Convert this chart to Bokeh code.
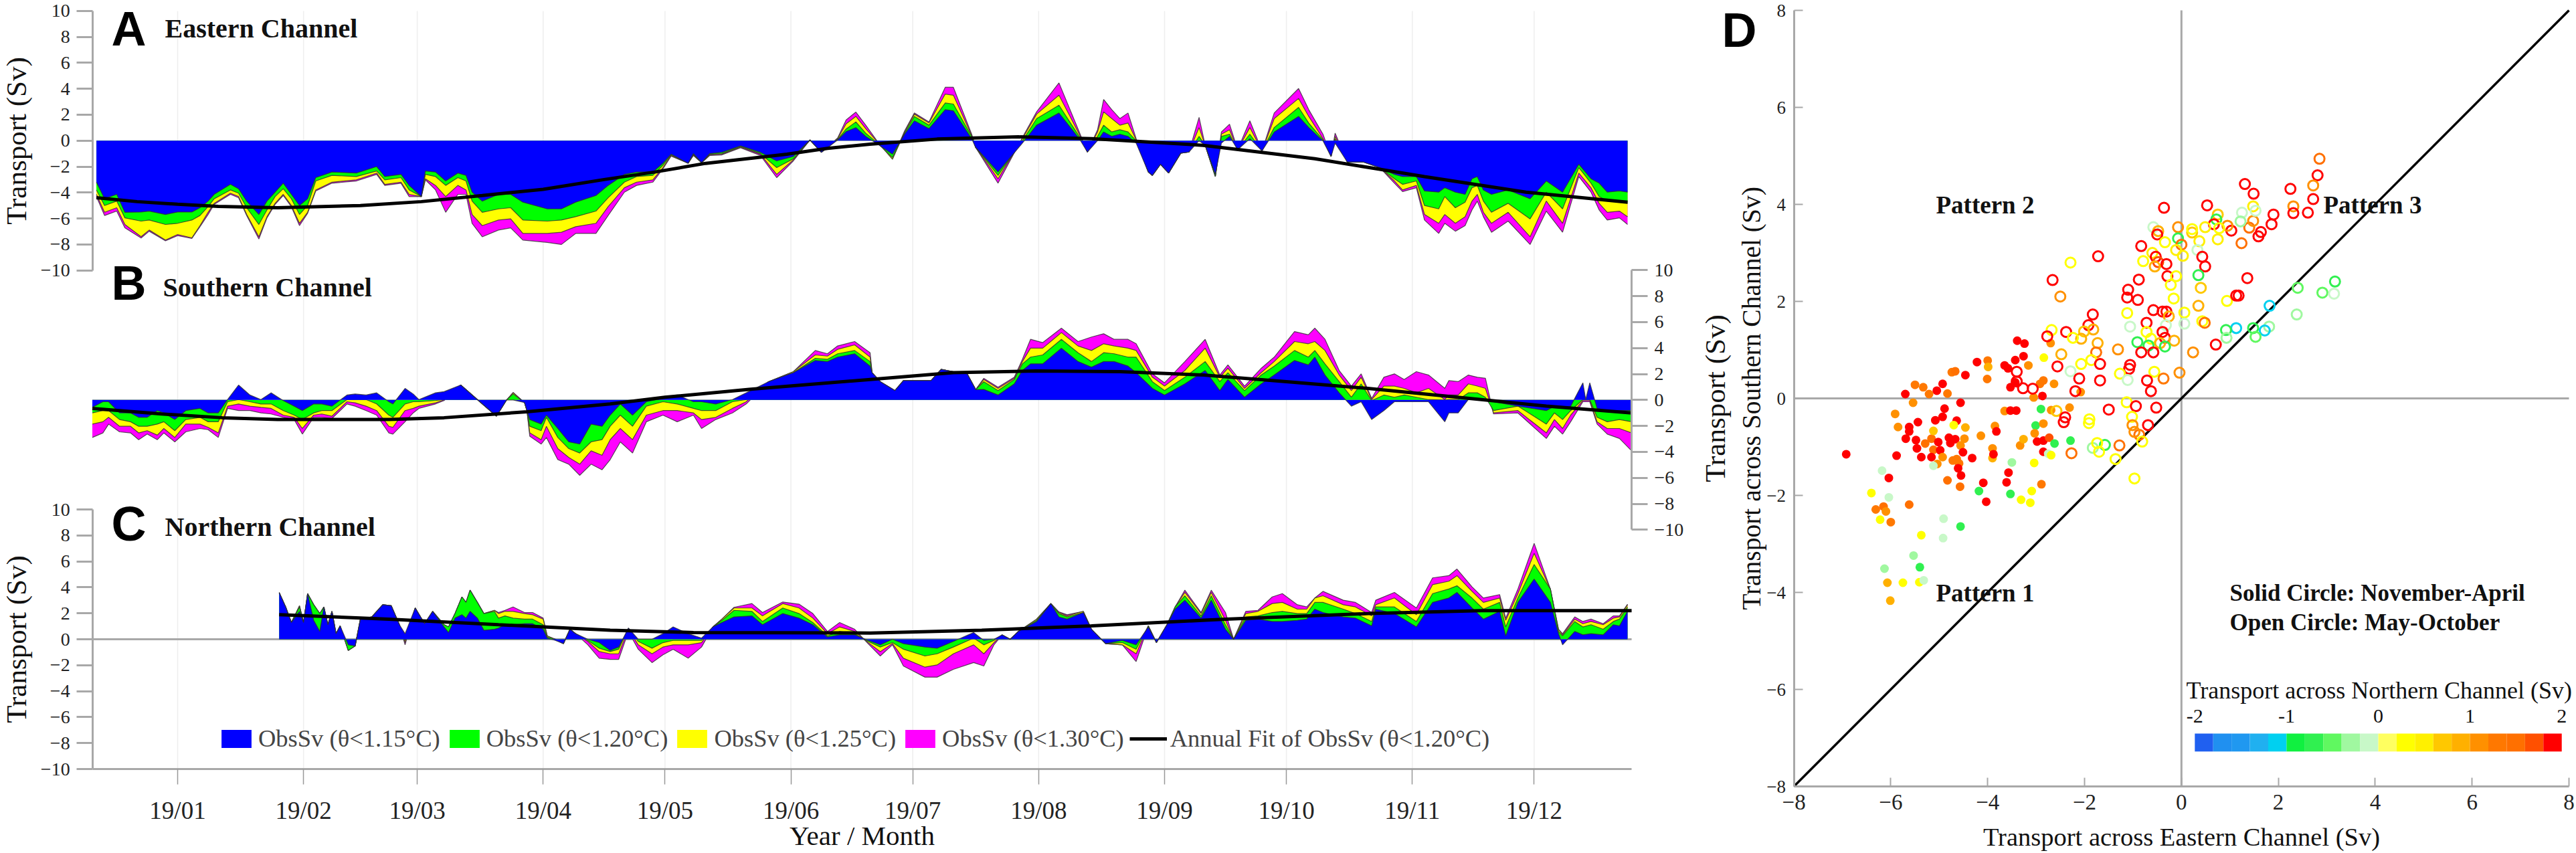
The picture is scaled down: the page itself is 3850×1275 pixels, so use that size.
from math import pi

from bokeh.embed import file_html
from bokeh.models import (ColumnDataSource, FixedTicker, Label, Legend, LegendItem,
                          LinearAxis, LinearColorMapper, Range1d)
from bokeh.plotting import figure
from bokeh.resources import INLINE

# months, x is days from the 19/01 tick
month_days = [0, 31, 59, 90, 120, 151, 181, 212, 243, 273, 304, 334]
month_labels = ["19/01", "19/02", "19/03", "19/04", "19/05", "19/06",
                "19/07", "19/08", "19/09", "19/10", "19/11", "19/12"]
y_ticks = [-10, -8, -6, -4, -2, 0, 2, 4, 6, 8, 10]
d_ticks = [-8, -6, -4, -2, 0, 2, 4, 6, 8]

# Eastern channel
a_days = [-20, -18, -15, -13, -9, -7, -3, 0, 3.5, 5.5, 7.5, 9, 13, 15, 17, 20, 22, 24, 26, 28,
          30, 32, 34, 38, 44, 49, 51, 55, 57, 60, 61, 63.5, 66, 69, 71, 72.5, 75, 79, 82, 85,
          91, 94.5, 98, 103, 106, 110, 113, 117, 119.5, 121.5, 125.7, 127, 129, 131, 134,
          138.6, 143.5, 147.5, 151.6, 155.7, 158.5, 162.5, 164.6, 167, 169.4,
          172, 176, 179, 181.4, 185, 189, 191, 195.5, 196.5, 202, 208, 211.5, 217, 222, 224,
          226.5, 228, 230, 232, 234, 236, 239, 240, 242, 244, 247, 249, 251.5, 253, 255.5,
          257, 259, 261, 264, 267, 270, 276, 278.5, 282, 284, 285, 288, 292, 296, 299.6,
          301.6, 305, 307, 310.5, 312, 314.6, 317, 318.7, 320, 321.5, 323.5, 327.6, 333, 337, 341,
          345, 348, 350, 352, 355, 357]
a_115 = [-3.2, -4.48, -4.14, -5.52, -5.5, -5.43, -5.69, -5.5, -5.5, -5.17, -4.66, -4.14, -3.37, -3.71, -4.66,
         -5.69, -4.66, -3.97, -3.28, -4.14, -5, -4.48, -2.85, -2.42, -2.5, -2, -2.77, -2.6, -3.45, -4.31,
         -2.34, -2.42, -3.11, -2.5, -2.68, -3.97, -4.66, -4.14, -4.14, -4.74, -5.26, -5.26, -4.74, -4.23, -3.45,
         -2.6, -2.42, -2.42, -1.74, -1.05, -1.74, -1, -1.7, -1, -0.9, -0.4, -0.9, -1.56, -1.22, 0.05,
         -0.9, 0.05, 0.7, 1, 0.33,
         -0.19, -1.05, 0.5, 1.53, 0.93, 2.39, 2.3, 0.15, -0.53, -2.42, -0.19, 1.19, 2.13, 0.15, -0.88,
         0, 0.67, 0.33, 0.5, 0.33, -0.19, -2.42, -2.68, -1.82, -2.5, -0.96, -0.88, 0, -0.36, -2.6,
         -0.19, 0.33, -0.7, 0.15, -0.79, 0.67, 1.87, 1.01, -0.02, -1.22, -0.19, -1.65, -1.65, -2.08, -2.6,
         -2.77, -2.77, -3.88, -3.97, -3.63, -3.97, -4.14, -2.94, -2.77, -3.8, -4.14, -3.8, -4.48, -3.11, -3.97,
         -1.82, -2.94, -3.28, -3.97, -3.88, -3.97]
a_120 = [-3.8, -5, -4.66, -5.95, -6.2, -6.12, -6.46, -6.37, -6.12, -5.77, -5.09, -4.48, -3.8, -4.05, -5.17,
         -6.46, -5.34, -4.31, -3.71, -4.48, -5.69, -5, -3.11, -2.68, -2.77, -2.34, -3.02, -2.85, -3.8, -4.31,
         -2.6, -2.77, -3.45, -2.85, -3.11, -4.66, -5.52, -5.26, -5.17, -6.12, -6.2, -6.12, -5.86, -5.43, -4.4,
         -3.2, -2.77, -2.68, -1.9, -1.1, -1.74, -1.05, -1.7, -1.05, -1, -0.45, -1, -2.08, -1.4, 0.05,
         -0.9, 0.1, 0.9, 1.44, 0.58,
         -0.1, -1.3, 0.58, 1.87, 1.19, 2.9, 2.82, 0.33, -0.53, -2.68, -0.02, 1.7, 2.73, 0.33, -0.88,
         0.33, 1.19, 0.67, 0.84, 0.67, 0, -2.42, -2.68, -1.82, -2.5, -0.96, -0.88, 0.33, -0.36, -2.77,
         0.33, 0.5, -0.7, 0.5, -0.79, 1.01, 2.56, 1.36, 0.07, -1.22, 0.15, -1.65, -1.65, -2.08, -2.94,
         -3.37, -3.11, -5, -5.26, -4.31, -5.17, -4.74, -3.63, -3.45, -4.66, -5.52, -4.83, -6.03, -3.97, -5.26,
         -2.08, -3.28, -4.31, -4.66, -4.66, -4.83]
a_125 = [-4.14, -5.52, -5.17, -6.46, -7.4, -6.89, -7.66, -7.23, -7.49, -6.55, -5.52, -4.83, -4.05, -4.31, -5.69,
         -7.41, -5.86, -4.83, -4.14, -5, -6.37, -5.52, -3.8, -3.2, -3.02, -2.5, -3.37, -3.2, -4.14, -4.31,
         -2.94, -3.45, -4.31, -3.45, -3.8, -5.69, -6.55, -6.12, -6.03, -7.15, -7.15, -7.06, -6.63, -6.37, -5.09,
         -3.63, -3.2, -3.02, -2.08, -1.15, -1.74, -1.1, -1.7, -1.1, -1.05, -0.5, -1.05, -2.6, -1.48, 0.05,
         -0.9, 0.15, 1.3, 1.87, 0.93,
         0, -1.43, 0.67, 2.04, 1.36, 3.59, 3.5, 0.41, -0.53, -2.94, 0.15, 2.04, 3.5, 0.5, -0.88,
         0.67, 2.22, 1.7, 1.19, 1.36, 0.07, -2.42, -2.68, -1.82, -2.5, -0.96, -0.88, 1.01, -0.36, -2.77,
         0.5, 0.84, -0.7, 1.01, -0.79, 1.7, 3.25, 1.87, 0.15, -1.22, 0.33, -1.65, -1.65, -2.08, -3.11,
         -3.8, -3.45, -5.69, -6.37, -5.69, -6.37, -5.86, -4.66, -4.14, -5.52, -6.37, -5.52, -7.41, -4.66, -6.37,
         -2.5, -3.63, -4.83, -5.52, -5.43, -5.86]
a_130 = [-4.31, -5.77, -5.43, -6.72, -7.5, -6.98, -7.72, -7.32, -7.54, -6.63, -5.69, -4.91, -4.14, -4.4, -5.77,
         -7.58, -5.95, -4.91, -4.23, -5.09, -6.55, -5.6, -3.88, -3.28, -3.11, -2.6, -3.45, -3.28, -4.31, -4.31,
         -3.02, -3.8, -5.52, -4.14, -4.14, -6.37, -7.41, -6.89, -6.72, -7.66, -7.84, -8, -7.15, -7.15, -5.77,
         -3.97, -3.45, -3.2, -2.16, -1.2, -1.74, -1.15, -1.7, -1.15, -1.1, -0.55, -1.15, -2.85, -1.56, 0.05,
         -0.9, 0.2, 1.6, 2.2, 1.2,
         0.07, -1.43, 0.76, 2.13, 1.44, 4.11, 4.11, 0.5, -0.53, -3.28, 0.24, 2.22, 4.45, 0.67, -0.88,
         0.84, 3.17, 2.39, 1.7, 2.13, 0.15, -2.42, -2.68, -1.82, -2.5, -0.96, -0.88, 1.79, -0.36, -2.77,
         0.67, 1.27, -0.7, 1.53, -0.79, 2.13, 4.02, 2.39, 0.5, -1.22, 0.58, -1.65, -1.65, -2.08, -3.28,
         -3.93, -3.63, -6.12, -7.15, -6.37, -6.98, -6.55, -5.34, -4.66, -5.86, -7.06, -6.2, -8, -5.43, -7.06,
         -2.77, -3.97, -5.34, -6.12, -5.95, -6.46]
a_fit_days = [-20, -10, 0, 10, 24.6, 45, 60, 75, 90, 105, 117.5, 130, 150, 160, 170.5, 187, 207, 225, 252.5, 280, 307, 332, 357]
a_fit = [-4.4, -4.7, -4.9, -5.07, -5.17, -5, -4.7, -4.23, -3.75, -3, -2.42, -1.75, -1.05, -0.6, -0.27, 0.12, 0.29, 0.15, -0.36, -1.39, -2.77, -3.97, -4.74]

# Southern channel
b_days = [-21, -18.4, -17, -14.3, -11.6, -9.6, -7.5, -5, -3.4, -0.7, 2, 5.5, 7.5, 10, 12.3,
          15, 17.8, 20.5, 23, 26, 28.7, 30.7, 33.5, 35.5, 38, 41.7, 43.7, 46.4, 49, 52,
          53, 56, 58, 59.4, 63.5, 65.6, 69.7, 73.8, 78.5, 81, 82.6, 85.4, 86, 86.7, 89.5,
          90.8, 93.6, 96.3, 99, 101.8, 104.5, 106.5, 109, 112, 115.4, 119.5, 123, 127, 129, 132.5,
          136.6, 140, 145.5, 151.6, 157, 160, 162.5, 166.7, 170.5,
          171, 173, 176.6, 178.7, 185.5, 188, 191, 194.4, 196.5, 198.5, 202, 206, 208, 210, 213,
          217.6, 221.7, 225, 228, 230.6, 234, 236, 240, 243, 248, 253, 256.6, 258.6, 262.7, 266.8,
          270, 275, 278.4, 280, 282.5, 286, 289, 291.4, 294, 297, 299.6, 302, 305, 308, 312,
          313, 315.3, 317.8, 320, 322, 324, 330, 337, 339, 341, 343, 346, 346.7, 347.7, 349.5,
          352, 355, 358]
b_115 = [-0.57, -0.14, -0.14, -1, -1, -1.34, -1.34, -0.82, -1, -1.51, -0.82, -0.65, -1, -1, 0.03,
         1.15, 0.38, 0.03, 0.55, -0.05, -0.48, -0.82, -0.31, -0.31, -0.48, 0.38, 0.46, 0.38, 0.55, -0.14,
         -0.31, 0.89, 0.46, 0.03, 0.55, 0.64, 1.15, 0.03, -1.25, 0, 0, -0.2, -0.82, -1.51, -1.86,
         -1.17, -2.2, -3.23, -3.4, -1.86, -2.03, -1.17, -0.31, -1.17, -0.14, 0.12, 0.38, -0.14, -0.14, -0.31,
         0.03, 0.55, 1.41, 2.1, 3.04, 2.96, 3.3, 3.56, 2.61,
         2.1, 1.41, 0.72, 1.49, 1.49, 2.35, 2.18, 2.01, 0.8, 0.81, 0.38, 1.24, 2.27, 2.78, 2.78,
         3.99, 2.96, 2.53, 2.96, 2.96, 2.61, 2.1, 0.89, 0.38, 1.24, 2.27, 0.72, 1.58, 0.21, 1.24,
         1.92, 3.04, 2.7, 3.3, 1.92, 0.55, -0.48, -0.14, -1.51, -0.82, -0.14, -0.14, -0.14, -0.14, -1.68,
         -1, -1, 0.03, 0.03, 0.03, -0.14, -0.48, -0.82, -0.48, -0.65, -0.48, 1.32, 0.03, 1.32, -0.65,
         -0.82, -0.82, -0.82]
b_120 = [-1, -0.82, -0.82, -1.51, -1.68, -2.03, -2.03, -1.86, -1.68, -2.37, -1.51, -1.34, -1.68, -1.68, -0.14,
         0.03, -0.14, -0.31, -0.31, -0.82, -1.17, -1.51, -1, -0.82, -0.82, 0.03, 0.03, 0.03, -0.31, -1.17,
         -1.34, -0.31, -0.14, -0.14, -0.05, 0.03, 1.15, 0.03, -1.25, 0, 0.46, -0.2, -0.82, -2.03, -2.37,
         -1.34, -2.89, -3.75, -4.09, -3.23, -3.06, -2.03, -1.17, -2.03, -0.48, -0.14, -0.31, -0.65, -0.82, -0.82,
         -0.14, 0.03, 1.41, 2.1, 3.21, 3.13, 3.56, 3.81, 2.96,
         2.1, 1.41, 0.72, 1.49, 1.49, 2.35, 2.18, 2.01, 0.8, 1.41, 0.72, 1.58, 2.78, 3.3, 3.47,
         4.67, 3.64, 2.96, 3.64, 3.56, 3.3, 3.3, 1.41, 0.72, 1.75, 2.96, 1.41, 2.1, 0.72, 1.92,
         2.61, 3.81, 3.3, 3.81, 2.78, 1.41, 0.21, 1.24, -0.05, 0.38, 0.21, 0.38, 0.21, 0.03, 0,
         0.03, 0.03, 0.55, 0.55, 0.21, -0.82, -0.48, -1.86, -1, -1.51, -0.82, 0.03, 0.03, 0.03, -1.34,
         -1.68, -1.51, -1.68]
b_125 = [-1.86, -1.68, -1.34, -2.03, -2.03, -2.54, -2.37, -2.71, -2.2, -2.89, -1.86, -1.86, -2.11, -2.54, -0.48,
         -0.31, -0.48, -0.57, -0.65, -1.17, -1.34, -2.2, -1.17, -1.08, -1.25, -0.14, -0.22, -0.48, -0.82, -2.03,
         -2.11, -0.82, -0.65, -0.48, -0.22, 0, 1.15, 0.03, -1.25, 0, 0.55, -0.2, -0.82, -2.54, -3.06,
         -2.03, -3.75, -4.43, -4.95, -3.92, -4.26, -3.06, -2.2, -3.06, -1.17, -0.82, -0.82, -1, -1.51, -1.34,
         -0.65, -0.14, 1.41, 2.18, 3.47, 3.38, 3.9, 4.24, 3.3,
         2.1, 1.41, 0.72, 1.49, 1.49, 2.35, 2.18, 2.01, 0.8, 1.58, 0.89, 1.67, 2.96, 3.99, 3.99,
         5.19, 4.16, 3.81, 4.33, 4.16, 3.99, 3.81, 1.75, 1.07, 2.27, 3.99, 1.75, 2.44, 0.89, 2.1,
         2.96, 4.5, 4.33, 4.5, 3.81, 1.92, 0.72, 1.75, 0.03, 1.07, 1.07, 0.89, 0.55, 0.89, 0.03,
         0.38, 0.38, 1.24, 1.07, 0.89, -1, -0.82, -2.54, -1.51, -2.2, -1.17, -0.05, -0.05, -0.05, -1.68,
         -2.2, -2.2, -2.54]
b_130 = [-2.89, -2.54, -1.86, -2.46, -2.54, -3.06, -2.63, -3.06, -2.54, -3.23, -2.46, -2.2, -2.29, -2.89, -0.65,
         -0.82, -0.82, -1, -1.08, -1.34, -1.51, -2.63, -1.34, -1.34, -1.43, -0.31, -0.48, -0.82, -1.17, -2.54,
         -2.63, -1.68, -1, -0.65, -0.31, -0.05, 1.15, 0.03, -1.25, 0, 0.58, -0.2, -0.82, -2.8, -3.4,
         -2.89, -4.6, -4.95, -5.81, -4.95, -5.38, -4.6, -3.23, -4.09, -1.68, -1.17, -1.68, -1.17, -2.2, -1.51,
         -1, -0.31, 1.41, 2.18, 3.81, 3.56, 4.16, 4.5, 3.64,
         2.1, 1.41, 0.72, 1.49, 1.49, 2.35, 2.18, 2.01, 0.8, 1.67, 0.98, 1.75, 3.13, 4.67, 4.42,
         5.53, 4.5, 4.85, 5.1, 4.67, 4.67, 4.33, 2.01, 1.32, 2.96, 4.67, 1.92, 2.7, 1.07, 2.44,
         3.3, 5.27, 5.02, 5.53, 4.67, 2.27, 1.07, 2.01, 0.12, 1.75, 2.01, 1.58, 2.18, 1.92, 0.89,
         1.49, 1.41, 1.92, 1.75, 1.67, -1.08, -1, -2.97, -2.03, -2.63, -1.68, -0.14, -0.14, -0.14, -1.86,
         -2.63, -2.97, -3.92]
b_fit_days = [-21, -4, 11, 24.6, 52, 65.6, 86, 106.5, 120, 140.7, 170.5, 191, 211.5, 232, 252.5, 273, 293, 321, 337, 358]
b_fit = [-0.65, -1.08, -1.37, -1.51, -1.51, -1.37, -0.91, -0.31, 0.21, 0.81, 1.58, 2.1, 2.23, 2.18, 1.92, 1.41, 0.89, 0.03, -0.48, -1]

# Northern channel
c_days = [25, 26.6, 28, 30, 31, 32, 33.5, 35, 36, 37, 38, 39, 40, 42, 43.7,
          45, 47.8, 50.5, 52.6, 54.6, 56, 58.5, 60.8, 62.8, 65.6, 66.7, 68.3, 70, 71, 72,
          73.8, 75.4, 78, 79, 80.6, 82.6, 85.4, 87.4, 90, 91, 93, 95, 96.6, 98, 101,
          103.8, 106.5, 108.6, 111, 113.4, 116.8, 119.5, 122, 125.7, 129, 131.8, 134, 137, 141.4, 144,
          149, 153, 156.4, 160, 163, 166.7, 170,
          173, 176, 178.7, 184, 187, 191, 196, 198.5, 201, 203, 205, 207, 211.5, 215, 217,
          219, 223, 225, 228.5, 232.6, 236, 239, 241, 243.6, 245.6, 248, 252, 254.5, 258, 260,
          263, 266, 269.5, 272, 275.7, 278, 280, 282, 287, 290, 294, 295, 299.6, 305, 309,
          313, 315, 318.7, 321.5, 325.5, 327, 330, 334, 338, 340, 341, 344, 346, 348, 351,
          353.5, 355, 357]
c_115 = [3.6, 2.49, 1.29, 2.15, 1.29, 3.52, 1.46, 0.6, 2.49, 1.12, 2.15, 0.43, 1.03, -0.43, -0.52,
         1.55, 1.72, 2.66, 2.58, 1.12, 0.43, 2.41, 1.2, 2.15, 0.95, 0.52, 1.63, 1.89, 1.63, 2.15,
         1.63, 0.69, 0.77, 0.86, 1.12, 1.12, 1.2, 1.2, 0.77, 0.09, -0.09, -0.34, 0.77, 0.43, 0,
         -0.26, -0.86, -0.6, 0.86, 0, 0, 0.43, 0.95, 0.43, 0.09, 0.95, 1.29, 1.72, 1.8, 1.12,
         1.98, 1.63, 1.12, 0.17, 0.34, 0.34, -0.09,
         -0.43, 0, -0.34, -0.6, -0.69, -0.17, 0.52, -0.09, 0, 0.34, 0, 0.6, 1.37, 2.75, 1.72,
         1.55, 2.06, 0.77, -0.34, -0.09, -0.43, 0.95, -0.26, 1.12, 2.32, 3.01, 1.63, 3.01, 0.77, 0,
         1.46, 1.55, 1.37, 1.37, 1.46, 1.55, 2.32, 2.06, 1.72, 1.63, 1.03, 2.32, 1.98, 0.95, 2.84,
         3.18, 3.61, 2.41, 1.55, 2.15, 0.26, 2.84, 4.64, 2.84, 0.43, -0.43, 0.6, 0.34, 0.43, 0.34,
         1.12, 1.03, 2.15]
c_120 = [3.6, 2.49, 1.29, 2.49, 1.29, 3.52, 2.66, 1.98, 2.49, 1.12, 2.15, 0.43, 1.03, -0.86, -0.52,
         1.55, 1.72, 2.66, 2.58, 1.12, -0.09, 2.41, 1.2, 2.15, 1.12, 0.95, 1.98, 3.26, 2.84, 3.78,
         2.84, 1.98, 2.15, 1.63, 1.8, 1.63, 1.55, 1.55, 1.12, 0.17, 0, -0.34, 0.77, 0.43, -0.09,
         -0.69, -0.95, -0.77, 0.86, -0.17, -0.69, -0.26, -0.09, -0.09, -0.09, 0.95, 1.46, 2.23, 2.15, 1.37,
         2.41, 1.98, 1.29, 0.26, 0.6, 0.43, -0.17,
         -0.6, -0.26, -0.77, -1.29, -1.12, -0.6, 0.09, -0.43, -0.09, 0.34, 0, 0.6, 1.46, 2.75, 1.98,
         1.72, 2.06, 0.77, -0.34, -0.26, -0.77, 1.03, -0.26, 1.12, 2.49, 3.35, 1.8, 3.35, 1.12, 0,
         1.72, 1.8, 2.06, 2.15, 1.98, 1.98, 2.84, 2.84, 2.32, 1.98, 1.37, 2.49, 2.49, 1.37, 3.52,
         3.87, 4.12, 3.18, 2.32, 2.84, 0.95, 3.18, 5.76, 3.87, 0.6, 0.26, 1.37, 0.95, 1.12, 0.77,
         1.37, 1.55, 2.49]
c_125 = [3.6, 2.49, 1.29, 2.58, 1.29, 3.52, 2.66, 1.98, 2.49, 1.12, 2.15, 0.43, 1.03, -0.86, -0.52,
         1.55, 1.72, 2.66, 2.58, 1.12, -0.26, 2.41, 1.2, 2.15, 1.12, 0.95, 1.98, 3.26, 2.84, 3.78,
         2.84, 1.98, 2.23, 1.98, 2.15, 2.15, 1.98, 1.89, 1.55, 0.26, 0, -0.34, 0.77, 0.43, -0.17,
         -0.95, -1.12, -1.12, 0.77, -0.43, -1.12, -0.6, -0.43, -0.43, -0.26, 0.95, 1.55, 2.41, 2.41, 1.8,
         2.75, 2.41, 1.63, 0.43, 0.95, 0.6, -0.26,
         -0.95, -0.34, -1.46, -2.15, -1.98, -1.12, -0.43, -1.12, -0.26, 0.34, 0, 0.6, 1.55, 2.75, 2.06,
         1.8, 2.15, 0.77, -0.34, -0.43, -1.12, 1.03, -0.26, 1.12, 2.49, 3.61, 1.98, 3.61, 1.46, 0,
         1.98, 2.15, 2.75, 2.84, 2.32, 2.32, 3.18, 3.35, 2.66, 2.49, 1.8, 2.66, 3.18, 1.89, 4.21,
         4.47, 4.9, 3.69, 2.84, 3.18, 1.46, 3.52, 6.62, 3.87, 0.77, 0.34, 1.55, 1.2, 1.37, 1.12,
         1.63, 1.72, 2.66]
c_130 = [3.6, 2.49, 1.29, 2.58, 1.29, 3.52, 2.66, 1.98, 2.49, 1.12, 2.15, 0.43, 1.03, -0.86, -0.52,
         1.55, 1.72, 2.66, 2.58, 1.12, -0.43, 2.41, 1.2, 2.15, 1.12, 0.95, 1.98, 3.26, 2.84, 3.78,
         2.84, 1.98, 2.23, 2.06, 2.23, 2.49, 2.06, 2.06, 1.63, 0.26, 0, -0.34, 0.77, 0.43, -0.43,
         -1.46, -1.55, -1.55, 0.6, -0.77, -1.8, -1.2, -0.77, -1.46, -0.6, 0.95, 1.55, 2.46, 2.75, 2.06,
         2.87, 2.7, 1.98, 0.6, 1.29, 0.77, -0.34,
         -1.29, -0.43, -2.06, -2.92, -2.92, -2.32, -1.8, -2.06, -0.43, 0.34, 0, 0.6, 1.55, 2.75, 2.11,
         1.89, 2.15, 0.77, -0.34, -0.43, -1.72, 1.03, -0.26, 1.12, 2.49, 3.78, 2.06, 3.78, 2.06, 0,
         2.15, 2.23, 3.26, 3.52, 2.66, 2.49, 3.18, 3.69, 3.01, 2.84, 2.06, 3.01, 3.61, 2.41, 4.73,
         4.9, 5.41, 4.04, 3.18, 3.44, 1.63, 3.87, 7.39, 3.87, 0.77, 0.43, 1.72, 1.37, 1.55, 1.2,
         1.8, 1.8, 2.7]
c_fit_days = [25, 52, 79, 106.5, 127, 170.5, 198, 225, 258, 293.4, 321, 358]
c_fit = [1.89, 1.55, 1.12, 0.69, 0.52, 0.48, 0.69, 1.03, 1.55, 1.98, 2.2, 2.2]

# panel D, May-October (open circles)
open_east = [2.85, 2.81, 2.72, 2.72, 2.25, 2.31, 2.31, 2.61, 1.31, 1.49, 1.9, 1.86, 1.64, 1.59, 1.4, 1.48, 1.48, 1.25, 1.22, 1.53,
             1.03, 0.95, 1.24, 0.75, 0.72, 0.67, 0.49, 0.78, 0.75, 0.53, -0.36, -0.07, 0.22, 0.22, 0.37, 0.33, -0.07, -0.58, -0.48, -0.5,
             -0.34, -0.83, 0, -0.11, 0.03, -0.6, -0.79, -0.53, -0.48, -0.31, -0.55, 0.43, 0.49, -1.72, -2.29, -2.66, -2.5, -0.88, -0.29, -0.11,
             0.35, -0.22, 0.4, -1.1, -1.12, -0.9, -0.16, 0.35, 0.94, 1.13, 1.18, 1.36, 2.4, 2.91, 3.17, 3.15, 1.82, 2.38, 1.81, 1.72,
             1.13, 0.92, 0.93, 1.48, 1.53, 0.71, 0.24, -0.04, -0.58, -0.39, -0.31, -0.26, -1.12, 0.06, 0.43, 0.48, 0.06, -0.32, -1.06, -0.72,
             -1.83, -1.92, -1.82, -2.01, -2.07, -2.38, -2.68, -2.77, -2.24, -1.73, -1.76, -1.31, -0.39, -0.72, -0.63, -0.34, -0.15, -0.91, -0.68, -0.44,
             -0.34, -0.83, -0.58, -2.48, -2.56, -2.07, -1.86, -1.68, -2.29, -1.06, -1.08, -1.27, -0.56, -1.11, -0.71, -0.37, -1.68, -2.11, -0.63, -2.19,
             -3.4, -3.4, -3.27, -3.07, -1.13, -0.94, -0.52, -1.5, -2.58, -2.4, -2.43, -1.9, -1.91, -1.02, -1.01, -0.69,
             -2.27, -1.28, -1.58, -1.83, -1.74, -1.7, -1.36, -0.97, -0.87, -0.81, -0.97]
open_south = [4.94, 4.6, 4.39, 4.11, 4.32, 3.96, 3.82, 3.83, 4.42, 4.22, 3.79, 3.59, 3.43, 3.34, 3.52, 3.66, 3.96, 3.83, 3.65, 3.87,
              3.46, 3.56, 3.2, 3.79, 3.69, 3.59, 3.53, 3.51, 3.28, 3.98, 3.93, 3.53, 3.42, 3.49, 3.24, 3.06, 3.3, 3.53, 3.45, 3.38,
              3.22, 3.14, 3.17, 3.06, 2.94, 3, 2.83, 2.92, 2.81, 2.77, 2.72, 2.92, 2.72, 2.93, 2.8, 2.44, 2.1, 2.45, 2.52, 2.52,
              2.54, 2.34, 2.28, 2.24, 2.08, 2.03, 2.06, 1.91, 2.01, 2.12, 2.12, 2.48, 2.28, 2.18, 2.41, 2.16, 1.91, 1.73, 1.48, 1.4,
              1.45, 1.41, 1.25, 1.45, 1.27, 1.11, 0.95, 0.53, 1.82, 1.79, 1.79, 1.69, 1.76, 1.77, 1.59, 1.56, 1.54, 1.51, 1.48, 1.56,
              1.73, 1.51, 1.42, 1.38, 1.23, 1.37, 1.41, 1.28, 1.25, 1.14, 0.95, 1.01, 1.37, 1.37, 1.23, 1.25, 1.19, 1.16, 1.09, 1.14,
              1.07, 0.95, 0.95, 0.91, 0.66, 0.71, 0.79, 0.71, 0.56, 0.69, 0.61, 0.51, 0.55, 0.38, 0.37, 0.41, 0.37, 0.41, 0.15, 0.15,
              0.55, 0.35, 0.21, 0.2, -0.08, -0.16, -0.19, -0.23, -0.26, -0.39, -0.49, -0.43, -0.51, -0.38, -0.55, -0.55,
              -1.13, -0.97, -0.96, -1.02, -0.92, -1.1, -1.25, -1.65, -0.75, -0.89, -0.69]
open_north = [1.5, 1.9, 1.1, 1.9, 1.9, 1.1, 1.9, 1.9, 1.9, 1.9, 1.9, 1.9, 1.9, 1.9, 1.5, 1.1, 0.5, -0.1, -0.3, -0.1,
              1.9, 1.1, 1.5, 0.7, -0.7, 1.9, 0.5, 0.3, 0.5, 1.9, 1.9, 1.1, 0.7, 0.3, 0.5, -0.1, -0.7, -0.1, 0.9, 1.9,
              0.3, 1.9, 1.5, 0.5, 0.5, 0.5, 0.3, 1.9, 1.7, 1.9, 0.9, 1.9, 1.9, 1.9, 0.3, 1.9, 1.1, 1.9, 1.9, 0.3,
              -0.7, 0.3, 0.7, 1.9, 1.9, 1.9, 0.3, 0.9, 0.3, 1.9, 1.9, 1.9, -0.5, -0.5, -0.6, -0.1, -1.2, -0.3, -0.3, -1.2,
              -1.2, -0.7, -0.3, -0.7, -0.5, 1.9, 1.1, 1.1, 1.9, 1.9, 1.9, 0.9, 0.3, 0.3, 0.3, 1.5, -0.1, -0.1, -0.1, 1.9,
              1.9, 1.9, 0.9, 0.7, 0.9, 1.9, 0.3, 1.9, 0.3, 0.9, 1.5, 1.1, 1.9, 0.3, 0.3, 1.9, 0.9, -0.7, -0.7, 0.9,
              -0.7, 1.9, 1.9, 0.9, 1.9, 0.3, 0.3, 1.9, -0.1, 1.9, 1.9, 0.3, 0.3, -0.1, 1.9, 1.3, 1.9, 1.9, 1.9, 1.9,
              1.9, 1.9, 1.9, 1.9, 0.3, 1.9, 1.9, 1.9, 0.7, 1.9, 1.9, 0.3, 0.3, 0.3, 1.1, 1.9,
              1.5, 1.5, -0.6, -0.3, 0.3, 0.3, 0.3, 0.3, 1.5, 0.3, 1.1]

# panel D, November-April (solid circles)
solid_east = [-5.7, -5.5, -5.33, -5.21, -5.05, -4.93, -4.83, -4.74, -4.67, -4.46, -4.22, -4, -3.99, -4.01, -3.65, -3.58, -3.43, -3.39, -3.24, -3.26,
              -3.16, -2.84, -2.7, -3.53, -3.43, -2.92, -2.85, -2.63, -2.87, -3.05, -5.54, -4.56, -4.89, -5.91, -5.08, -4.93, -4.64, -5.44, -5.85, -5.62,
              -4.7, -4.46, -3.85, -3.65, -3.53, -3.41, -2.9, -2.69, -2.31, -3.01, -2.85, -2.08,
              -5.62, -5.69, -5.48, -5.16, -5.12, -4.8, -4.67, -4.48, -5.29, -5.46, -5.02, -4.77, -5.12, -4.98, -4.56, -6.92, -5.88, -5.37, -5.16, -4.32,
              -4.51, -4.64, -4.72, -4.93, -5.04, -5.12, -4.59, -4.61, -3.9, -3.9, -3.88, -4.14, -3.82, -3.33, -3.26, -3.03, -2.98, -2.85, -2.73, -2.29,
              -2.62, -2.85, -2.75, -2.69, -3.5, -3.04, -3.57, -3.61, -4.09, -4.55, -4.83, -4.57, -6.04, -6.18, -2.89, -3.53, -4.18, -4.03, -3.09, -3.31,
              -3.12, -6.04, -6.4, -5.62, -6.15, -6.31, -6.1, -6.22, -6, -4.91, -4.56, -5.37, -4.92, -5.53, -5.4, -6.13, -6.07, -5.75, -5.41, -5.32, -6.01]
solid_south = [0.09, 0.28, 0.23, 0.09, 0.16, 0.3, 0.1, 0.54, 0.56, 0.48, 0.75, 0.78, 0.65, 0.4, 0.68, 0.62, 0.79, 1.19, 1.13, 0.87,
               0.68, 0.84, 1.14, 0.23, 0.33, 0.3, 0.37, 0.3, 0.05, 0.02, -0.09, -0.09, -0.21, -0.32, -0.45, -0.38, -0.46, -0.49, -0.59, -0.59,
               -0.55, -0.6, -0.57, -0.26, -0.25, -0.25, -0.22, -0.24, -0.19, -0.56, -0.52, 0.13,
               -0.68, -0.83, -0.86, -0.83, -0.67, -0.81, -0.84, -0.83, -0.93, -1.03, -0.9, -0.92, -1.06, -1.07, -0.97, -1.15, -1.18, -1.21, -1.21, -1.23,
               -1.11, -1.25, -1.28, -1.21, -1.35, -1.39, -1.34, -1.44, -1.03, -1.23, -1.15, -0.77, -0.68, -0.97, -0.84, -0.72, -0.89, -0.87, -0.81, -0.87,
               -0.93, -1.1, -1.14, -1.17, -1.32, -1.33, -1.53, -1.73, -1.74, -1.59, -1.69, -1.82, -1.64, -1.49, -1.77, -1.97, -1.91, -2.13, -1.91, -2.09,
               -2.15, -2.04, -1.95, -2.19, -2.23, -2.29, -2.33, -2.5, -2.55, -2.48, -2.64, -2.82, -2.88, -3.24, -3.48, -3.51, -3.8, -3.8, -3.79, -3.75, -4.17]
solid_north = [1.9, 1.3, 1.3, 1.3, 1.9, 1.9, 1.3, 1.3, 1.5, 1.9, 1.9, 1.3, 0.9, 1.3, 1.9, 1.9, 1.9, 1.9, 1.9, 1.9,
               1.1, 0.4, 1.1, 1.9, 1.9, 1.3, 1.3, 1.1, 1.9, 1.1, 1.1, 1.9, 1.9, 1.1, 1.9, 1.9, 1.9, 1.9, 1.1, 1.9,
               0.3, 0.9, 1.1, 1.1, 1.9, 1.9, -0.7, 1.1, 1.1, -0.7, 1.1, 1.1,
               1.9, 1.9, 1.9, 1.5, 0.7, 1.9, 1.9, 1.1, 1.5, 1.9, 1.9, 1.9, 1.5, 1.9, 1.1, 1.9, 1.9, 1.9, 1.9, 1.9,
               1.9, 1.3, 1.3, 1.1, 1.1, -0.1, 1.3, 1.9, 1.1, 0.9, 1.9, 1.1, 1.9, 1.1, 0.9, 1.1, 1.9, 1.9, 1.7, -0.7,
               -0.6, 1.9, -0.1, 0.3, -0.3, 0.3, 1.9, 1.9, 1.9, 1.9, 1.5, 1.5, 1.9, -0.1, 1.3, -0.7, -0.7, 1.9, 0.3, 0.3,
               0.3, -0.1, 0.3, 1.5, 1.5, 1.3, 1.1, 0.3, 1.3, -0.1, -0.7, 0.3, -0.1, -0.3, -0.7, -0.3, 0.9, 0.3, 0.3, -0.1, 0.9]

# colour bar of panel D
north_edges = [-2, -1.8, -1.6, -1.4, -1.2, -1, -0.8, -0.6, -0.4, -0.2, 0,
               0.2, 0.4, 0.6, 0.8, 1, 1.2, 1.4, 1.6, 1.8, 2]
north_palette = ["#2060f0", "#2090f0", "#2098f0", "#20b0f0", "#00d0f0",
                 "#10f040", "#30f050", "#60f860", "#a0f8a0", "#c8f8c8",
                 "#ffff60", "#ffff00", "#fff000", "#ffc800", "#ffb000",
                 "#ff9000", "#ff7800", "#ff7000", "#ff5000", "#ff0000"]
north_ticks = [-2, -1, 0, 1, 2]

W, H = 3850, 1275
GRAY = "#a8a8a8"
SERIF = "Liberation Serif"


def px_range(zero_px, px_per_unit):
    # range over the whole page height, zero_px is where 0 sits in the 3850x1275 picture
    return Range1d((zero_px - H) / px_per_unit, zero_px / px_per_unit)


def hx_range(zero_px, px_per_unit):
    return Range1d(-zero_px / px_per_unit, (W - zero_px) / px_per_unit)


p = figure(width=W, height=H, x_range=hx_range(265, 6.07), y_range=px_range(209.7, 19.4),
           x_axis_type=None, y_axis_type=None, output_backend="svg", toolbar_location=None,
           min_border=0, outline_line_color=None)
p.min_border_left = p.min_border_right = p.min_border_top = p.min_border_bottom = 0
p.extra_y_ranges = {"b": px_range(597.3, 19.4), "c": px_range(955, 19.4), "dy": px_range(595, 72.5)}
p.extra_x_ranges = {"dx": hx_range(3259.8, 72.4), "north": hx_range(3554, 137.1)}

# month lines through all three panels
p.segment(month_days, [-10] * 12, month_days, [48.4] * 12, y_range_name="c", color="#eeeeee", line_width=1.5)
p.line([-20.9, 358], [0, 0], y_range_name="c", color=GRAY, line_width=3)

legend_parts = None
for name, days, s115, s120, s125, s130, fit_days, fit in [
    ("default", a_days, a_115, a_120, a_125, a_130, a_fit_days, a_fit),
    ("b", b_days, b_115, b_120, b_125, b_130, b_fit_days, b_fit),
    ("c", c_days, c_115, c_120, c_125, c_130, c_fit_days, c_fit),
]:
    parts = []
    for vals, col in [(s130, "#ff00ff"), (s125, "#ffff00"), (s120, "#00ff00"), (s115, "#0000ff")]:
        r = p.varea(days, [0] * len(days), vals, y_range_name=name, fill_color=col)
        p.line(days, vals, y_range_name=name, color="#303030", line_width=1.2, line_alpha=0.8)
        parts.append(r)
    fit_line = p.line(fit_days, fit, y_range_name=name, color="black", line_width=5)
    if legend_parts is None:
        legend_parts = parts + [fit_line]

legend = Legend(items=[
    LegendItem(label="ObsSv (θ<1.15°C)", renderers=[legend_parts[3]]),
    LegendItem(label="ObsSv (θ<1.20°C)", renderers=[legend_parts[2]]),
    LegendItem(label="ObsSv (θ<1.25°C)", renderers=[legend_parts[1]]),
    LegendItem(label="ObsSv (θ<1.30°C)", renderers=[legend_parts[0]]),
    LegendItem(label="Annual Fit of ObsSv (θ<1.20°C)", renderers=[legend_parts[4]]),
], location=(325, 150), orientation="horizontal", background_fill_alpha=0, border_line_color=None,
    label_text_font=SERIF, label_text_font_size="36.5px", glyph_width=56, glyph_height=34,
    label_standoff=5, spacing=8, padding=0, margin=0)
p.add_layout(legend)


def y_axis(range_name, side, day):
    ax = LinearAxis(y_range_name=range_name, fixed_location=day, bounds=(-10, 10),
                    ticker=FixedTicker(ticks=y_ticks))
    ax.axis_line_color = GRAY
    ax.axis_line_width = 3
    ax.major_tick_line_color = GRAY
    ax.major_tick_line_width = 3
    ax.major_tick_out = 24
    ax.major_tick_in = 0
    ax.minor_tick_line_color = None
    ax.major_label_text_font = SERIF
    ax.major_label_text_font_size = "28px"
    ax.major_label_text_color = "#222222"
    ax.major_label_standoff = 10
    p.add_layout(ax, side)


y_axis("default", "left", -20.9)
y_axis("c", "left", -20.9)
y_axis("b", "right", 358)

xax = LinearAxis(y_range_name="c", fixed_location=-10, bounds=(-20.9, 358),
                 ticker=FixedTicker(ticks=month_days),
                 major_label_overrides=dict(zip(month_days, month_labels)))
xax.axis_line_color = GRAY
xax.axis_line_width = 3
xax.major_tick_line_color = "#999999"
xax.major_tick_line_width = 1.5
xax.major_tick_out = 23
xax.major_tick_in = 0
xax.minor_tick_line_color = None
xax.major_label_text_font = SERIF
xax.major_label_text_font_size = "37px"
xax.major_label_text_color = "#222222"
xax.major_label_standoff = 18
p.add_layout(xax, "below")

# panel D
p.line([0, 0], [-8, 8], x_range_name="dx", y_range_name="dy", color=GRAY, line_width=3)
p.line([-8, 8], [0, 0], x_range_name="dx", y_range_name="dy", color=GRAY, line_width=3)
p.line([-8, 8], [-8, 8], x_range_name="dx", y_range_name="dy", color="black", line_width=3.5)

mapper = LinearColorMapper(palette=north_palette, low=-2, high=2)
solid_src = ColumnDataSource(dict(x=solid_east, y=solid_south, n=solid_north))
open_src = ColumnDataSource(dict(x=open_east, y=open_south, n=open_north))
p.scatter("x", "y", source=solid_src, x_range_name="dx", y_range_name="dy", size=13,
          fill_color={"field": "n", "transform": mapper}, line_color=None)
p.scatter("x", "y", source=open_src, x_range_name="dx", y_range_name="dy", size=15, fill_color=None,
          line_color={"field": "n", "transform": mapper}, line_width=3)

p.quad(left=north_edges[:-1], right=north_edges[1:], top=[-6.91] * 20, bottom=[-7.28] * 20,
       x_range_name="north", y_range_name="dy", fill_color=north_palette, line_color=None)

for side, size in [("left", "27px"), ("below", "33px")]:
    ax = LinearAxis(x_range_name="dx", y_range_name="dy", fixed_location=-8, bounds=(-8, 8),
                    ticker=FixedTicker(ticks=d_ticks))
    ax.axis_line_color = GRAY
    ax.axis_line_width = 3
    ax.major_tick_line_color = GRAY
    ax.major_tick_line_width = 2
    ax.major_tick_in = 13
    ax.major_tick_out = 0
    ax.minor_tick_line_color = None
    ax.major_label_text_font = SERIF
    ax.major_label_text_font_size = size
    ax.major_label_text_color = "#222222"
    ax.major_label_standoff = 12
    p.add_layout(ax, side)


def put(text, x, y, size, font=SERIF, style="normal", align="left", angle=0, color="#111111"):
    # x, y in pixels of the 3850x1275 picture, y is the text's middle
    p.add_layout(Label(x=x, y=H - y, x_units="screen", y_units="screen", text=text,
                       text_font=font, text_font_style=style, text_font_size=f"{size}px",
                       text_align=align, text_baseline="middle", angle=angle, text_color=color))


for letter, x, y in [("A", 166, 42), ("B", 166, 422), ("C", 166, 782), ("D", 2573, 44)]:
    put(letter, x, y, 72, font="Liberation Sans", style="bold", color="black")
put("Eastern Channel", 246, 42, 40, style="bold")
put("Southern Channel", 243, 429, 40, style="bold")
put("Northern Channel", 246, 787, 40, style="bold")

put("Transport (Sv)", 24, 210, 43, align="center", angle=pi / 2)
put("Transport (Sv)", 24, 955, 43, align="center", angle=pi / 2)
put("Transport (Sv)", 2563, 595, 43, align="center", angle=pi / 2)
put("Year / Month", 1288, 1248, 41, align="center")

put("Transport across Southern Channel (Sv)", 2617, 595, 39.5, align="center", angle=pi / 2)
put("Transport across Eastern Channel (Sv)", 3260, 1250, 38.5, align="center")
put("Pattern 2", 2893, 306, 37, style="bold")
put("Pattern 3", 3472, 306, 37, style="bold")
put("Pattern 1", 2893, 886, 37, style="bold")
put("Solid Circle: November-April", 3332, 886, 35, style="bold")
put("Open Circle: May-October", 3332, 930, 35, style="bold")
put("Transport across Northern Channel (Sv)", 3267, 1031, 36)
for t in north_ticks:
    put(str(t), 3554 + t * 137.1, 1070, 30, align="center")

open("out.html", "w").write(file_html(p, INLINE))
